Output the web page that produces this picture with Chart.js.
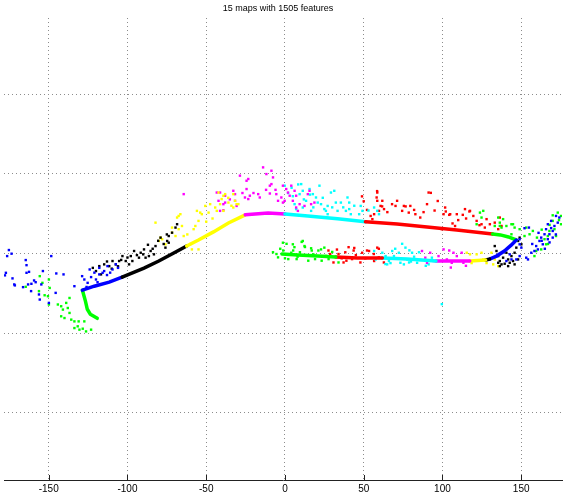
<!DOCTYPE html>
<html>
<head>
<meta charset="utf-8">
<script src="https://cdn.jsdelivr.net/npm/chart.js@4.4.1/dist/chart.umd.min.js"></script>
<style>
  html, body { margin: 0; padding: 0; background: #fff; overflow: hidden; }
  #map { position: absolute; left: -10px; top: 0; }
</style>
</head>
<body>
<canvas id="map" width="576" height="498"></canvas>
<script>
const chartTitle = '15 maps with 1505 features';
const xTicks = [-150, -100, -50, 0, 50, 100, 150];
const yTicks = [-100, -50, 0, 50, 100];

// vehicle path, one piece per local map
const pathGreen1 = [[-1.9, -0.3], [8.2, -0.9], [20.8, -1.6], [32.2, -2.2]];
const pathRed1 = [[32.2, -2.2], [46, -2.8], [61.8, -2.8]];
const pathCyan1 = [[61.8, -2.8], [77.6, -3.5], [95.8, -4.7]];
const pathMagenta1 = [[95.8, -4.7], [109.1, -4.7], [117.3, -4.7]];
const pathYellow1 = [[117.3, -4.7], [127.4, -4.1]];
const pathBlack1 = [[127.4, -4.1], [129.9, -3.5]];
const pathBlue1 = [[129.9, -3.5], [134.3, -1.6], [139.3, 1.6], [143.8, 5.4], [146.9, 8.5]];
const pathGreen2 = [[146.9, 8.5], [141.9, 10.4], [136.8, 11.7], [131.8, 12.3]];
const pathRed2 = [[131.8, 12.3], [109.1, 14.8], [90.2, 16.7], [71.2, 18.6], [51.1, 19.9]];
const pathCyan2 = [[51.1, 19.9], [33.4, 21.8], [14.5, 23.6], [0, 24.9]];
const pathMagenta2 = [[0, 24.9], [-10.7, 25.5], [-25.2, 24.3]];
const pathYellow2 = [[-25.2, 24.3], [-35.9, 19.2], [-45.4, 13.6], [-54.9, 8.5], [-62.4, 4.7]];
const pathBlack2 = [[-62.4, 4.7], [-70.6, 0.3], [-80.1, -4.7], [-89.5, -9.1], [-103.4, -14.8]];
const pathBlue2 = [[-103.4, -14.8], [-111.6, -18], [-121.1, -20.5], [-128.6, -23]];
const pathGreen3 = [[-128.6, -23], [-126.7, -29.9], [-125.5, -35], [-123.6, -38.1], [-119.2, -40.7]];

// mapped features, grouped by map colour
const blueFeatures = [
  [-175.3, 2.2], [-176.4, -1.6], [-173.6, -0.1], [-164.6, -4.1], [-164.1, -7.3], [-177.2, -12.1],
  [-177.8, -13.7], [-173, -15.6], [-164.1, -12.1], [-162.5, -11.5], [-171.9, -19.4], [-171.5, -20],
  [-166.3, -21.1], [-163.1, -19.4], [-161, -19], [-159.3, -16.9], [-158.3, -18], [-161.2, -23.6],
  [-156.2, -25.7], [-155.7, -28.9], [-154.7, -19.4], [-153.7, -11], [-148.4, -1.6], [-145.2, -12.5],
  [-140.6, -13.1], [-145.6, -24.7], [-149.9, -31], [-133.7, -20.5], [-128.8, -14.2], [-127.4, -16.3],
  [-125.3, -18.4], [-123.1, -14.8], [-120, -16.3], [-117.9, -13.1], [-115.8, -12.1], [-117.9, -9],
  [-114.8, -11], [-112.7, -7.9], [-109.5, -10], [-107.4, -6.8], [-121, -12], [-119, -18],
  [-113, -13.5], [-111, -12], [-106, -9], [-124, -10], [-126, -21],
  [166.9, 18.4], [169, 20.5], [172.1, 23.6], [165.8, 15.3], [164.8, 12.1], [162.7, 10], [161.6, 7.9],
  [159.5, 4.7], [158.4, 1.6], [160.6, 2.6], [163.7, 5.8], [166.9, 9], [167.9, 12.1], [170, 14.2],
  [171.1, 17.3], [173.2, 19.4], [174.2, 22.6], [154.9, 16.3], [152.1, 15.9], [156.4, 0.5], [153.2, -2.6],
  [154.3, -3.7], [149, -1.6], [150.1, 3.7], [146.9, -3.7], [143.8, -3.7], [140.6, -4.7], [142.7, -0.5],
  [149, 5.8], [149, 9], [163, 8], [165, 3], [168, 7], [170, 10], [161, 13], [157, 6], [169, 16], [172, 12]
];
const greenFeatures = [
  [173.2, 25.7], [175.3, 23.6], [170, 20.5], [171.1, 15.3], [167.9, 14.2], [165.8, 5.8], [162.7, 2.6],
  [159.5, 1.6], [158.4, -1.6], [164.8, 9], [166.9, 11], [155.3, 12.1], [157.4, 14.2], [153.2, 16.3],
  [143.8, 12.1], [144.8, 18.4], [136.4, 17.3], [137.5, 16.3], [175.3, 18.4], [172.1, 11],
  [168, 18], [170, 24], [163, 15], [160, 10], [174, 21], [167, 6],
  [123.8, 25.7], [125.9, 26.8], [124.8, 22.6], [135.4, 22.6], [136.4, 19.4], [138.5, 21.6], [140.6, 17.3],
  [143.8, 18.4], [133.2, 17.3], [121.7, 18.4], [145.8, 16.3], [149, 15.3], [152.1, 11],
  [-7.6, 0.8], [-4.4, -2.4], [-1.1, 1.9], [1, 6.1], [5.2, 1.9], [7.4, -3.5], [10.6, 7.3], [12.7, 4.1],
  [9.5, 0.8], [17, 1.9], [19.1, -3.5], [23.3, -4.5], [27.7, -3.5], [14.8, -4.5], [21.2, 1.9], [34, -5.6],
  [-5.4, -0.3], [2.1, -3.5], [-1.3, 6.8], [5, 5.8], [11.3, 7.9], [12.4, 4.7], [25, 3.7], [22.9, 2.6],
  [16.6, 3.3], [0, -3], [4, 0.5], [8, -2], [13, -1], [18, -0.5], [26, -1.5], [30, 1], [-3, 3], [6, 4],
  [-155.7, -14.2], [-154, -18.4], [-149.9, -16.3], [-149.4, -21.6], [-156.2, -23.6], [-152.6, -26.2],
  [-164.6, -20.9], [-150.5, -26.8], [-149.9, -32], [-144.2, -32], [-142.1, -33.1], [-138.9, -31],
  [-141, -35.2], [-137.9, -34.2], [-142.1, -39.4], [-140, -40.5], [-136.8, -37.3], [-135.7, -41.5],
  [-133.7, -42.6], [-131.6, -45.7], [-130.5, -47.8], [-133.7, -46.8], [-128.4, -47.2], [-126.3, -48.9],
  [-123.1, -47.8], [-131, -42.6], [-127.4, -42.6], [-136.8, -27.9]
];
const blackFeatures = [
  [-68.5, 18.4], [-69.5, 16.3], [-71.7, 13.1], [-73.8, 11], [-74.8, 7.9], [-75.9, 3.7], [-79, 10],
  [-82.2, 4.7], [-85.3, 1.6], [-86.4, -1.6], [-89.5, 2.6], [-91.6, 0.5], [-92.7, -2.6], [-95.8, 1.6],
  [-97.9, -1.6], [-96.9, -4.7], [-99, -6.8], [-101.1, -4.7], [-103.2, -1.6], [-105.3, -4.7],
  [-107.4, -6.8], [-109.5, -4.7], [-111.6, -7.9], [-114.8, -6.8], [-117.9, -7.9], [-88.5, -2.6],
  [-83.2, -0.5], [-73.8, 6.8], [-116.8, -13.1], [-75, 12], [-77, 6], [-80.5, 8], [-84, 3], [-87, 5.5],
  [-90, -0.5], [-94, -1], [-100, -2.5], [-104, -4], [-106, -8], [-110, -9.5], [-113, -5], [-120, -11],
  [-122, -9],
  [133.2, 4.7], [134.3, 1.6], [135.4, -1.6], [136.4, -4.7], [137.5, -6.8], [138.5, -2.6], [140.6, 0.5],
  [141.7, -3.7], [143.8, -1.6], [144.8, -4.7], [145.8, 0.5], [146.9, 3.7], [148, 7.9], [149, 10],
  [148, -3.7], [142.7, -5.8], [135.4, -5.8], [136.4, -7.9], [139.5, -6.4], [145.8, -6.8], [141.7, -7.9],
  [150.1, 5.8]
];
const yellowFeatures = [
  [-82.2, 19.4], [-79, 10], [-80.1, 7.9], [-78, 9], [-71.7, 13.1], [-68.5, 22.6], [-67.5, 23.6],
  [-66.4, 24.7], [-65.4, 17.3], [-67.5, 15.3], [-69.5, 11], [-64.3, 11], [-55.9, 26.8], [-54.9, 20.5],
  [-56.9, 17.3], [-52.8, 24.7], [-50.6, 29.9], [-47.5, 31], [-48.5, 25.7], [-44.3, 28.9], [-43.3, 26.8],
  [-41.2, 31], [-40.2, 34.2], [-42.2, 38.3], [-39.1, 36.3], [-35.9, 32], [-32.8, 37.3], [-31.7, 33.1],
  [-29.6, 31], [-32.8, 28.9], [-39.1, 26.8], [-54.9, 2.6], [-59.1, 2.6], [-75.9, 5.8], [-71.7, 16.3],
  [-53.8, 25.7], [-58, 15.3], [-38, 37.3], [-30.7, 31], [-60, 6], [-62, 12], [-50, 20], [-46, 22],
  [-36, 35], [-34, 30],
  [115.4, 0.5], [117.5, -0.5], [121.7, -0.5], [124.8, 0.5], [125.9, -3.7], [131.1, 0.5], [133.2, -3.7],
  [135.4, -7.9], [132.2, -6.8], [128, -6], [118.5, -6]
];
const magentaFeatures = [
  [-13.9, 54.1], [-8.6, 52], [-11.8, 49.9], [-7.6, 47.8], [-28.6, 48.9], [-24.4, 45.7], [-23.3, 46.8],
  [-9.6, 42.6], [-8.6, 43.6], [-43.3, 38.3], [-32.8, 39.4], [-31.7, 37.3], [-24.4, 40.5], [-17, 37.3],
  [-16, 35.2], [-22.3, 36.3], [-23.3, 34.2], [-25.4, 35.2], [-9.6, 37.7], [-5.5, 37.3], [-4.4, 33.1],
  [-2.3, 35.2], [-1.3, 32], [-38, 32], [-41.2, 26.8], [-39.1, 27.2], [-31.7, 33.1], [-30.7, 29.9],
  [-64.3, 37.3], [-41.2, 38.3], [-42.2, 33.1], [-38, 36.3], [-39.1, 31], [0.8, 40.5], [1.9, 38.3],
  [4, 42.6], [3, 36.3], [6.1, 39.4], [7.1, 36.3], [-0.2, 33.1], [5, 33.1], [7.1, 28.9], [9.3, 31],
  [12.4, 29.9], [14.5, 37.3], [15.6, 39.4], [16.6, 31], [18.7, 32], [8.2, 26.8], [-1.3, 42.6],
  [-20, 38], [-12, 40], [-6, 40], [-27, 38], [-35, 34],
  [87, 1.6], [89.1, -2.6], [92.2, 0.5], [94.4, -4.7], [97.5, -1.6], [100.7, 2.6], [102.8, -3.7],
  [105.9, -5.8], [109.1, -1.6], [112.2, 0.5], [113.3, -5.8], [90.2, -5.8], [107, 0.5], [104.3, 1.9],
  [105.3, -8.8], [114.9, -7.7]
];
const cyanFeatures = [
  [-0.2, 42.6], [10.3, 43.6], [11.3, 39.4], [9.3, 37.3], [15.6, 40.5], [17.7, 37.3], [19.7, 35.2],
  [20.8, 32], [13.4, 33.1], [11.3, 28.9], [16.6, 26.8], [22.9, 31], [27.1, 29.9], [26, 26.8], [29.2, 38.3],
  [31.3, 39.4], [32.3, 32], [35.5, 32], [39.7, 35.2], [40.8, 32], [38.7, 26.8], [41.8, 24.7], [40.8, 27.9],
  [47.1, 24.7], [48.1, 29.9], [49.2, 26.8], [56.6, 28.9], [58.6, 26.8], [59.7, 24.7], [25, 27.9],
  [6.1, 31], [7.1, 27.9], [21.9, 42.6], [27.1, 24.7], [33.4, 26.8], [4.2, 41.3], [8.4, 43.4], [15.9, 37],
  [2, 38], [5, 36], [12, 34], [24, 35], [30, 29], [37, 29], [44, 30], [53, 27], [18, 29],
  [61.8, 0.5], [63.9, -1.6], [66, -4.7], [68.1, 1.6], [69.2, -1.6], [72.3, 0.5], [73.3, -5.8], [76.5, 3.7],
  [77.6, -3.7], [80.7, 0.5], [83.9, -5.8], [56.6, 1.6], [57.6, -3.7], [75.5, -6.8], [91.2, -6.8],
  [93.3, -2.6], [64.9, -6.8], [63.8, -6.6], [78.8, -5.6], [85.1, 0.8], [89.4, -7.7], [74.4, 6.1],
  [67, -6], [71, -3], [80, -5], [82, -2], [86, -4], [70, 3], [79, 2],
  [99.6, -31.8]
];
const redFeatures = [
  [58.6, 33.1], [61.8, 33.1], [60.7, 29.9], [59.7, 26.8], [56.6, 24.7], [62.9, 27.9], [58.6, 38.3],
  [58.2, 35.2], [71.2, 33.1], [70.2, 29.9], [74.4, 26.8], [75.5, 29.9], [79.6, 29.9], [82.8, 24.7],
  [78.6, 25.7], [91.2, 38.3], [90.2, 31], [85.9, 22.6], [101.7, 28.9], [100.7, 24.7], [104.9, 24.7],
  [109.1, 24.7], [114.3, 27.9], [117.5, 26.8], [119.6, 23.6], [121.7, 20.5], [124.8, 18.4], [126.9, 16.3],
  [108, 17.3], [99.6, 15.3], [130.1, 18.4], [133.2, 19.4], [135.4, 15.3], [137.5, 17.3], [128, 21.6],
  [136.4, 22.6], [54.4, 23.6], [55.5, 21.6], [48.9, 35.9], [50, 32.8], [58.5, 39.2], [52.1, 27.4],
  [61.7, 29.6], [76.6, 29.6], [82, 27.4], [92.6, 38.1], [102.1, 26.4], [104.3, 24.3], [112.9, 24.3],
  [117.1, 26.4], [123.5, 17.8], [106.4, 18.9], [65, 26], [68, 31], [88, 26], [95, 27], [97, 33],
  [110, 21], [115, 22],
  [27.6, 1.9], [28.7, -0.3], [34, -0.3], [38.3, 0.8], [43.6, 1.9], [42.6, -3.5], [47.9, -5.6], [52.1, 1.9],
  [56.4, -0.3], [59.6, 3], [62.8, -5.6], [30.8, -5.6], [37.2, -5.6], [59.6, -2.4], [40.4, 4], [53.4, 1.6],
  [58.6, 3.7], [56.6, -4.7], [33, 2.5], [36, -3], [45, -1], [49, 0.5], [51, -3], [44, 3.5], [39, -4.5]
];

const BLUE = '#0000ff', GREEN = '#00ff00', RED = '#ff0000', CYAN = '#00ffff';
const MAGENTA = '#ff00ff', YELLOW = '#ffff00', BLACK = '#000000';

const pathPieces = [
  [pathGreen1, GREEN], [pathRed1, RED], [pathCyan1, CYAN], [pathMagenta1, MAGENTA],
  [pathYellow1, YELLOW], [pathBlack1, BLACK], [pathBlue1, BLUE], [pathGreen2, GREEN],
  [pathRed2, RED], [pathCyan2, CYAN], [pathMagenta2, MAGENTA], [pathYellow2, YELLOW],
  [pathBlack2, BLACK], [pathBlue2, BLUE], [pathGreen3, GREEN]
];
const featureSets = [
  [blueFeatures, BLUE], [greenFeatures, GREEN], [blackFeatures, BLACK], [yellowFeatures, YELLOW],
  [magentaFeatures, MAGENTA], [cyanFeatures, CYAN], [redFeatures, RED]
];

const toPoints = (pairs) => pairs.map(([x, y]) => ({ x, y }));

const datasets = [];
for (const [pts, color] of pathPieces) {
  datasets.push({
    data: toPoints(pts),
    showLine: true,
    borderColor: color,
    borderWidth: 3.5,
    borderCapStyle: 'round',
    pointRadius: 0,
    tension: 0,
  });
}
for (const [pts, color] of featureSets) {
  datasets.push({
    data: toPoints(pts),
    showLine: false,
    pointStyle: 'rect',
    pointRadius: 1.7,
    pointBorderWidth: 0,
    pointBackgroundColor: color,
    borderColor: color,
  });
}

// matlab style: title above, ticks pointing into the axes
const matlabLook = {
  id: 'matlabLook',
  afterDraw(chart) {
    const { ctx, chartArea, scales } = chart;
    ctx.save();
    ctx.strokeStyle = '#222';
    ctx.lineWidth = 1;
    for (const v of xTicks) {
      const px = Math.round(scales.x.getPixelForValue(v)) + 0.5;
      ctx.beginPath();
      ctx.moveTo(px, chartArea.bottom);
      ctx.lineTo(px, chartArea.bottom - 5);
      ctx.stroke();
    }
    ctx.fillStyle = '#000';
    ctx.font = '9px "Liberation Sans", Arial, sans-serif';
    ctx.textAlign = 'center';
    ctx.textBaseline = 'middle';
    ctx.fillText(chartTitle, chart.width / 2, 9);
    ctx.restore();
  },
};

new Chart(document.getElementById('map'), {
  type: 'scatter',
  data: { datasets },
  options: {
    responsive: false,
    animation: false,
    layout: { padding: { left: 14, right: 0, top: 18, bottom: 0 } },
    plugins: { legend: { display: false }, tooltip: { enabled: false }, title: { display: false } },
    scales: {
      x: {
        type: 'linear',
        min: -178.4,
        max: 175.9,
        afterBuildTicks: (axis) => { axis.ticks = xTicks.map((v) => ({ value: v })); },
        grid: { color: '#8c8c8c', lineWidth: 1, drawTicks: false },
        border: { display: true, color: '#222', width: 1, dash: [1, 3] },
        ticks: { padding: 3, color: '#000', font: { family: '"Liberation Sans", Arial, sans-serif', size: 10 } },
      },
      y: {
        type: 'linear',
        min: -142.2,
        max: 147.9,
        afterBuildTicks: (axis) => { axis.ticks = yTicks.map((v) => ({ value: v })); },
        grid: { color: '#8c8c8c', lineWidth: 1, drawTicks: false },
        border: { display: false, dash: [1, 3] },
        ticks: { display: false },
      },
    },
  },
  plugins: [matlabLook],
});
</script>
</body>
</html>
